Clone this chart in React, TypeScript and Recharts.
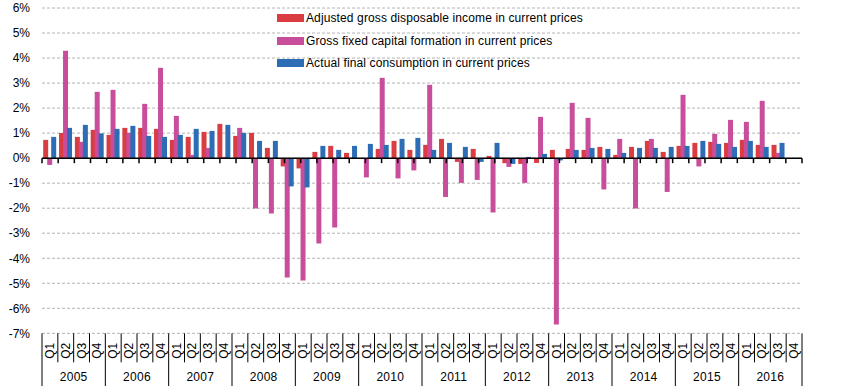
import { Bar, BarChart, CartesianGrid, Legend, ReferenceLine, XAxis, YAxis } from 'recharts'

const years = ['2005', '2006', '2007', '2008', '2009', '2010', '2011', '2012', '2013', '2014', '2015', '2016']
const quarters = ['Q1', 'Q2', 'Q3', 'Q4']

// quarter-on-quarter change, %, 2005 Q1 .. 2016 Q4
const incomeValues = [
  0.73, 1.01, 0.85, 1.13,
  0.93, 1.21, 1.21, 1.17,
  0.73, 0.85, 1.05, 1.37,
  0.89, 1.01, 0.41, -0.33,
  -0.41, 0.25, 0.49, 0.21,
  0.0, 0.37, 0.69, 0.33,
  0.53, 0.77, -0.15, 0.37,
  0.09, -0.2, -0.23, -0.19,
  0.33, 0.37, 0.33, 0.45,
  0.13, 0.45, 0.69, 0.25,
  0.49, 0.61, 0.65, 0.61,
  0.73, 0.53, 0.53, null,
]
const investmentValues = [
  -0.27, 4.29, 0.65, 2.65,
  2.73, 1.01, 2.17, 3.61,
  1.69, 0.13, 0.41, 0.05,
  1.21, -2.01, -2.21, -4.77,
  -4.89, -3.41, -2.77, 0.02,
  -0.77, 3.21, -0.81, -0.49,
  2.93, -1.55, -0.99, -0.87,
  -2.17, -0.35, -0.99, 1.65,
  -6.65, 2.21, 1.61, -1.25,
  0.77, -2.01, 0.77, -1.35,
  2.53, -0.33, 0.97, 1.53,
  1.45, 2.29, 0.21, null,
]
const consumptionValues = [
  0.85, 1.21, 1.33, 0.99,
  1.17, 1.29, 0.89, 0.85,
  0.93, 1.17, 1.09, 1.33,
  1.01, 0.69, 0.69, -1.13,
  -1.17, 0.49, 0.33, 0.49,
  0.57, 0.53, 0.77, 0.81,
  0.33, 0.61, 0.45, -0.15,
  0.61, -0.23, 0.05, 0.17,
  -0.09, 0.33, 0.41, 0.37,
  0.21, 0.41, 0.41, 0.45,
  0.49, 0.69, 0.57, 0.45,
  0.69, 0.45, 0.61, null,
]
const yTicks = [-7, -6, -5, -4, -3, -2, -1, 0, 1, 2, 3, 4, 5, 6]

const series = [
  { key: 'income', name: 'Adjusted gross disposable income in current prices', color: '#DA3D41' },
  { key: 'investment', name: 'Gross fixed capital formation in current prices', color: '#C84E9C' },
  { key: 'consumption', name: 'Actual final consumption in current prices', color: '#2C6DB5' },
]

const data = years.flatMap((year, yi) =>
  quarters.map((quarter, qi) => {
    const i = yi * 4 + qi
    return {
      id: `${year}-${quarter}`,
      year,
      quarter,
      income: incomeValues[i],
      investment: investmentValues[i],
      consumption: consumptionValues[i],
    }
  }),
)

const FONT = '"Liberation Sans", Arial, sans-serif'
const WIDTH = 855
const HEIGHT = 386
const MARGIN = { top: 8, right: 53, left: 0, bottom: 0 }
const Y_AXIS_WIDTH = 42

function QuarterTick(props: any) {
  const { x, y, payload } = props
  const index = payload.index
  const half = payload.offset || (WIDTH - MARGIN.right - Y_AXIS_WIDTH) / data.length / 2
  const row = data[index]
  const left = x - half
  const isYearStart = index % 4 === 0
  return (
    <g>
      <line x1={left} x2={left} y1={y} y2={y + (isYearStart ? 53 : 29)} stroke="#000" />
      {index === data.length - 1 && (
        <line x1={x + half} x2={x + half} y1={y} y2={y + 53} stroke="#000" />
      )}
      <text
        x={x}
        y={y + 17.5}
        transform={`rotate(-90, ${x}, ${y + 17.5})`}
        textAnchor="middle"
        dominantBaseline="central"
        fontSize={12}
        fontFamily={FONT}
        fill="#000"
      >
        {row.quarter}
      </text>
      {isYearStart && (
        <text
          x={left + half * 4}
          y={y + 48}
          textAnchor="middle"
          fontSize={12}
          letterSpacing={0.3}
          fontFamily={FONT}
          fill="#000"
        >
          {row.year}
        </text>
      )}
    </g>
  )
}

function LegendBox() {
  return (
    <div style={{ fontFamily: FONT, fontSize: 12, color: '#000' }}>
      {series.map((s) => (
        <div key={s.key} style={{ height: 22.5, lineHeight: '22.5px', display: 'flex', alignItems: 'center', whiteSpace: 'nowrap' }}>
          <span style={{ display: 'inline-block', width: 27, height: 8, background: s.color, marginRight: 2 }} />
          <span style={{ letterSpacing: 0.12 }}>{s.name}</span>
        </div>
      ))}
    </div>
  )
}

export default function App() {
  return (
    <div style={{ position: 'absolute', left: 0, top: 0, background: '#fff' }}>
      <BarChart
        width={WIDTH}
        height={HEIGHT}
        data={data}
        margin={MARGIN}
        barCategoryGap={1.2}
        barGap={-1}
      >
        <CartesianGrid vertical={false} stroke="#b4b4b4" strokeDasharray="3 2" />
        <XAxis
          dataKey="id"
          interval={0}
          axisLine={false}
          tickLine={false}
          tickSize={0}
          tickMargin={0}
          height={HEIGHT - 333.33 - MARGIN.bottom}
          tick={<QuarterTick />}
        />
        <XAxis xAxisId="num" type="number" domain={[0, data.length]} hide />
        <YAxis
          width={Y_AXIS_WIDTH}
          domain={[-7, 6]}
          ticks={yTicks}
          interval={0}
          axisLine={false}
          tickLine={false}
          tickSize={0}
          tickMargin={12}
          tickFormatter={(v: number) => `${v}%`}
          tick={{ fontSize: 12, fontFamily: FONT, fill: '#000' }}
        />
        <Legend
          layout="vertical"
          align="center"
          verticalAlign="middle"
          content={<LegendBox />}
          wrapperStyle={{ top: 7, left: 277, width: 340, height: 68 }}
        />
        {series.map((s) => (
          <Bar key={s.key} dataKey={s.key} name={s.name} fill={s.color} isAnimationActive={false} />
        ))}
        <ReferenceLine y={0} stroke="#000" strokeWidth={1.5} />
        {data.map((_, i) => (
          <ReferenceLine
            key={`tick-${i}`}
            xAxisId="num"
            segment={[{ x: i, y: 0 }, { x: i, y: -0.2 }]}
            stroke="#000"
            strokeWidth={1.5}
          />
        ))}
        <ReferenceLine
          xAxisId="num"
          segment={[{ x: data.length, y: 0 }, { x: data.length, y: -0.2 }]}
          stroke="#000"
          strokeWidth={1.5}
        />
      </BarChart>
    </div>
  )
}
